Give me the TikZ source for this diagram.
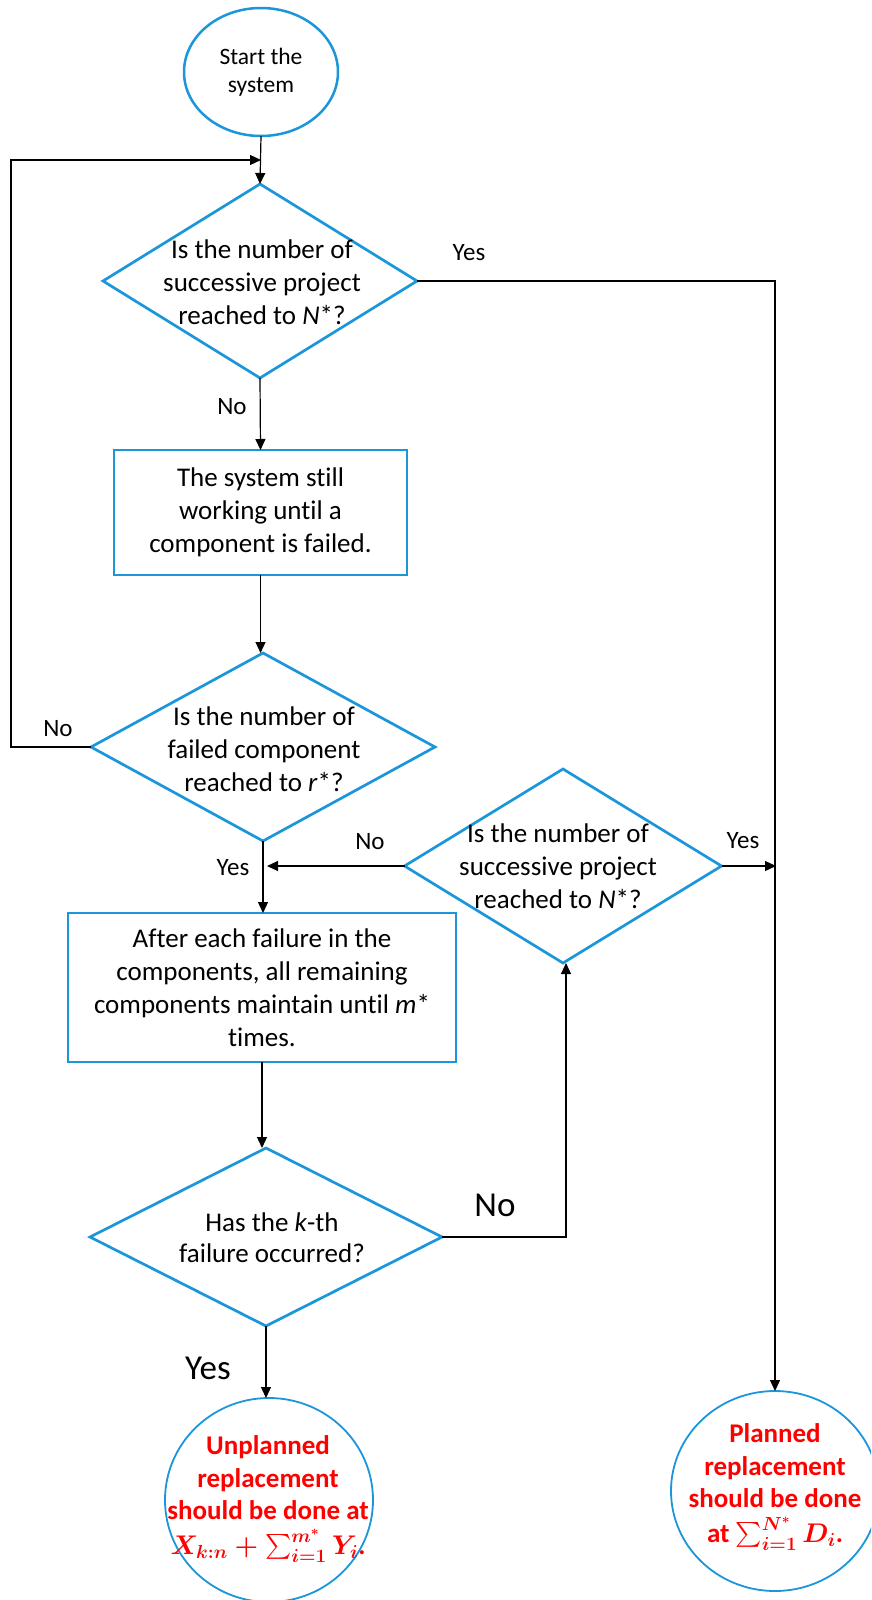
\RequirePackage{fix-cm}
\documentclass[tikz,border=0pt]{standalone}
\usepackage{amsmath}
\usepackage{fontspec}
\setmainfont{Carlito}[Ligatures=NoCommon]
\usetikzlibrary{shapes.geometric,arrows.meta}
\definecolor{fblue}{RGB}{27,150,218}
\definecolor{fred}{RGB}{255,0,0}
\definecolor{lgray}{RGB}{60,60,60}
\begin{document}
\begin{tikzpicture}[x=1pt,y=-1pt,
  dia/.style={diamond,draw=fblue,line width=2.7pt,inner sep=0pt,outer sep=0pt},
  box/.style={rectangle,draw=fblue,line width=2.7pt,inner sep=0pt,outer sep=0pt,align=center,font=\fontsize{27pt}{33pt}\selectfont},
  oval/.style={ellipse,draw=fblue,inner sep=0pt,outer sep=0pt},
  txt/.style={align=center,inner sep=0pt,font=\fontsize{27pt}{33pt}\selectfont},
  rtxt/.style={align=center,inner sep=0pt,text=fred,font=\fontsize{27pt}{32.5pt}\selectfont\bfseries\boldmath},
  lab/.style={inner sep=0pt,font=\fontsize{25pt}{30pt}\selectfont},
  biglab/.style={inner sep=0pt,font=\fontsize{35pt}{40pt}\selectfont},
  conn/.style={draw=black,line width=1.2pt,-{Triangle[length=11pt,width=10pt]}},
  plain/.style={draw=lgray,line width=1.2pt}]
\useasboundingbox (0,0) rectangle (871,1600);
\begin{scope}
\clip (0,0) rectangle (871,1600);
% nodes
\node[oval,line width=2.5pt,minimum width=154pt,minimum height=128pt] (start) at (261,72) {};
\node[txt,font=\fontsize{23.5pt}{28pt}\selectfont] (starttxt) at (start) {Start the\\system};

\node[dia,minimum width=314pt,minimum height=194pt] (d1) at (260,281) {};
\node[txt] (d1txt) at (262,282) {Is the number of\\successive project\\reached to \textit{N}*?};

\node[box,minimum width=293pt,minimum height=125pt] (b1) at (260.5,512.5) {The system still\\working until a\\component is failed.};

\node[dia,minimum width=344pt,minimum height=188pt] (d2) at (263,747) {};
\node[txt] (d2txt) at (264,749) {Is the number of\\failed component\\reached to \textit{r}*?};

\node[dia,minimum width=317pt,minimum height=194pt] (d3) at (563,866) {};
\node[txt] (d3txt) at (558,866) {Is the number of\\successive project\\reached to \textit{N}*?};

\node[box,minimum width=388pt,minimum height=149pt] (b2) at (262,987.5) {After each failure in the\\components, all remaining\\components maintain until \textit{m}*\\times.};

\node[dia,minimum width=352pt,minimum height=178pt] (d4) at (266,1237) {};
\node[txt,font=\fontsize{27pt}{31pt}\selectfont] (d4txt) at (272,1238) {Has the \textit{k}-th\\failure occurred?};

\node[oval,line width=1.8pt,minimum width=208pt,minimum height=204pt] (unp) at (269,1500) {};
\node[rtxt] (unptxt) at (268,1499) {Unplanned\\replacement\\should be done at\\[2pt]$X_{k:n}+\sum_{i=1}^{m^{*}}Y_{i}$.};

\node[oval,line width=1.8pt,minimum width=208pt,minimum height=200pt] (pln) at (775,1491) {};
\node[rtxt] (plntxt) at (775,1487) {Planned\\replacement\\should be done\\[2pt]at $\sum_{i=1}^{N^{*}}D_{i}$.};

% coordinates
\coordinate (j1) at (261,160);
\coordinate (lpa) at (11,747);
\coordinate (lpb) at (11,160);
\coordinate (rt1) at (775,281);
\coordinate (j2) at (267,866);
\coordinate (j3) at (776,866);
\coordinate (j4) at (566,1237);

% connectors
\draw[conn] (start.south) -- (d1.north);
\draw[conn] (d2.west) -- (lpa) -- (lpb) -- (j1);
\draw[conn] (d1.east) -- (rt1) -- (pln.north);
\draw[conn] (d1.south) -- (b1.north);
\draw[conn] (b1.south) -- (b1.south |- d2.north);
\draw[conn] (d2.south) -- (d2.south |- b2.north);
\draw[conn] (d3.west) -- (j2);
\draw[conn] (d3.east) -- (j3);
\draw[conn] (b2.south) -- (b2.south |- d4.north);
\draw[conn] (d4.east) -- (j4) -- (j4 |- d3.south);
\draw[conn] (d4.south) -- (d4.south |- unp.north);

% labels
\node[lab] (l1) at (469,253) {Yes};
\node[lab] (l2) at (232,407) {No};
\node[lab] (l3) at (58,729) {No};
\node[lab] (l4) at (370,842) {No};
\node[lab] (l5) at (233,868) {Yes};
\node[lab] (l6) at (743,841) {Yes};
\node[biglab] (l7) at (495,1205) {No};
\node[biglab] (l8) at (208,1368) {Yes};
\end{scope}
\end{tikzpicture}
\end{document}
